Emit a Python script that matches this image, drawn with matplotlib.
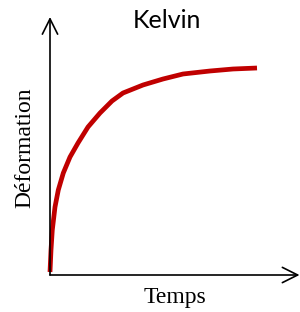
import matplotlib.pyplot as plt

# --- Curve data (Kelvin creep: deformation vs time) ---
temps = [0, 1, 2.3, 5, 8.3, 13.3, 20, 28, 38, 50, 62, 73, 93, 113, 133, 160, 183, 207]
deformation = [3, 25, 45, 68, 85, 102, 118, 132, 148, 162, 174, 182, 190, 196, 201, 204, 206, 207]

title = "Kelvin"
xlabel = "Temps"
ylabel = "Déformation"

# --- Figure ---
fig = plt.figure(figsize=(3.0, 3.12), dpi=100)
ax = fig.add_axes([50 / 300, 37 / 312, 250 / 300, 258 / 312])
ax.set_xlim(0, 250)
ax.set_ylim(0, 258)
ax.axis("off")

# axes drawn as arrows
arrow = dict(arrowstyle="->,head_length=1.1,head_width=0.55", color="black", lw=1.2,
             shrinkA=0, shrinkB=0)
ax.annotate("", xy=(0, 1), xytext=(0, 0), xycoords="axes fraction", arrowprops=arrow)
ax.annotate("", xy=(0.998, 0), xytext=(0, 0), xycoords="axes fraction", arrowprops=arrow)

# curve
ax.plot(temps, deformation, color="#c00000", lw=3.4, solid_capstyle="butt",
        solid_joinstyle="round", clip_on=False)

# --- Texts ---
fig.text(167 / 300, 1 - 20 / 312, title, ha="center", va="center",
         fontsize=18, family="Lato")
fig.text(175 / 300, 1 - 298 / 312, xlabel, ha="center", va="center",
         fontsize=17, family="Liberation Serif")
fig.text(25 / 300, 1 - 148 / 312, ylabel, ha="center", va="center",
         fontsize=17, family="Liberation Serif", rotation=90)

plt.savefig("out.png", dpi=100)
